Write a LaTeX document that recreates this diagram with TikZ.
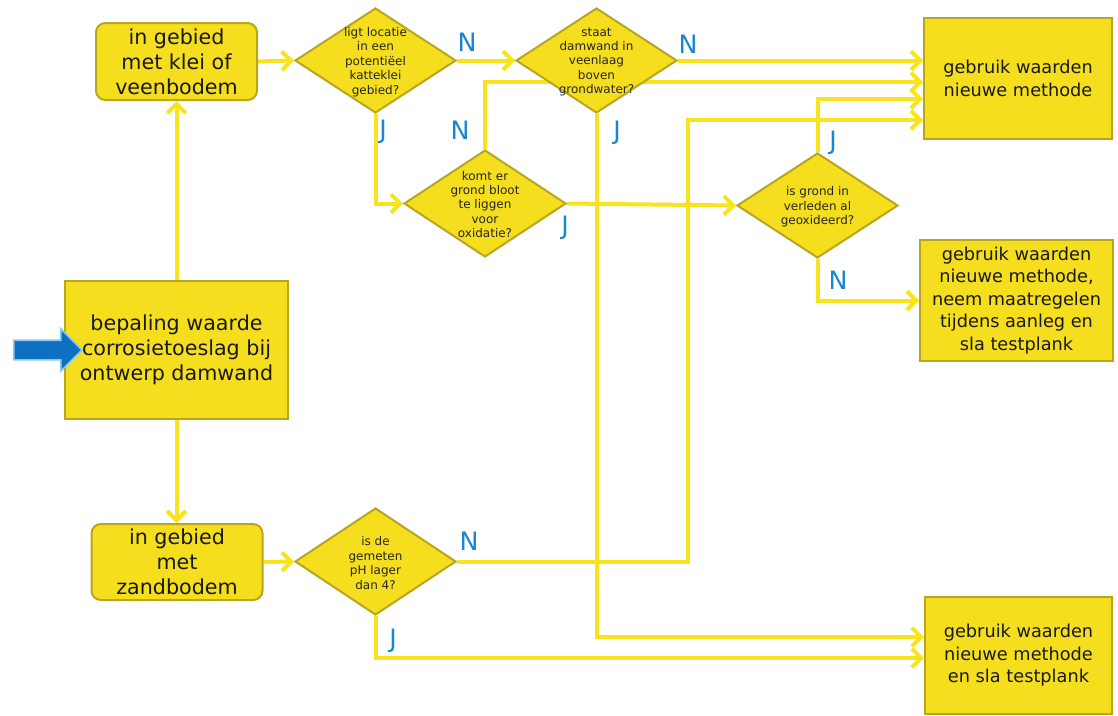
\documentclass[tikz,border=0pt]{standalone}
\usepackage{fontspec}
\setmainfont{DejaVu Sans}
\usetikzlibrary{shapes.geometric,shapes.arrows,arrows.meta,backgrounds}
\definecolor{boxfill}{RGB}{245,222,30}
\definecolor{boxline}{RGB}{185,165,30}
\definecolor{wire}{RGB}{248,228,28}
\definecolor{lblue}{RGB}{26,134,208}
\definecolor{darrow}{RGB}{14,112,192}
\definecolor{darrowedge}{RGB}{140,200,240}
\begin{document}
\begin{tikzpicture}[x=0.75pt,y=-0.75pt,
  box/.style={draw=boxline, fill=boxfill, line width=1.5pt, align=center, text=black!90, inner sep=0pt},
  rbox/.style={box, rounded corners=7pt},
  diam/.style={diamond, draw=boxline, fill=boxfill, line width=1.5pt, inner sep=0pt, minimum width=120.75pt, minimum height=78.75pt},
  dtext/.style={align=center, font=\fontsize{9}{10.8}\selectfont, text=black!85, inner sep=0pt},
  big/.style={font=\fontsize{15.5}{18.75}\selectfont},
  mid/.style={font=\fontsize{13.3}{16.9}\selectfont},
  arr/.style={draw=wire, line width=3pt, -{Straight Barb[length=7pt,width=14pt]}},
  lbl/.style={text=lblue, font=\fontsize{19}{20}\selectfont, inner sep=0pt}]
\useasboundingbox (0,0) rectangle (1118,715);

% boxes
\node[rbox, big, minimum width=120.75pt, minimum height=57.75pt] (klei) at (176.5,61.5) {in gebied\\met klei of\\veenbodem};
\node[rbox, big, minimum width=128.25pt, minimum height=57pt] (zand) at (177,562) {in gebied\\met\\zandbodem};
\node[box, big, minimum width=167.25pt, minimum height=103.5pt] (main) at (176.5,350) {bepaling waarde\\corrosietoeslag bij\\ontwerp damwand};
\node[box, mid, minimum width=141pt, minimum height=90.75pt] (b1) at (1018,78.5) {gebruik waarden\\nieuwe methode};
\node[box, mid, minimum width=144.75pt, minimum height=90.75pt] (b2) at (1016.5,300.5) {gebruik waarden\\nieuwe methode,\\neem maatregelen\\tijdens aanleg en\\sla testplank};
\node[box, mid, minimum width=140.25pt, minimum height=87.75pt] (b3) at (1018.5,655.5) {gebruik waarden\\nieuwe methode\\en sla testplank};

% start arrow
\node[single arrow, fill=darrow, draw=darrowedge, line width=1.2pt, inner sep=6.75pt, minimum height=51pt, single arrow head extend=8.5pt] (start) at (43,350) {};

% diamonds
\node[diam] (d1) at (375.5,60.5) {};
\node[dtext] (t1) at (375.5,62) {ligt locatie\\in een\\potentiëel\\katteklei\\gebied?};
\node[diam] (d2) at (596.5,60.5) {};
\node[dtext] (t2) at (596.5,62) {staat\\damwand in\\veenlaag\\boven\\grondwater?};
\node[diam, minimum width=121.5pt, minimum height=80.25pt] (d3) at (485,203.5) {};
\node[dtext] (t3) at (485,204.5) {komt er\\grond bloot\\te liggen\\voor\\oxidatie?};
\node[diam] (d4) at (817.5,205.5) {};
\node[dtext] (t4) at (817.5,207) {is grond in\\verleden al\\geoxideerd?};
\node[diam, minimum height=80.25pt] (d5) at (375.5,561.5) {};
\node[dtext] (t5) at (375.5,563) {is de\\gemeten\\pH lager\\dan 4?};

% labels
\node[lbl] (n1) at (467,42) {N};
\node[lbl] (j1) at (383,132) {J};
\node[lbl] (n2) at (460,130) {N};
\node[lbl] (j2) at (617,133) {J};
\node[lbl] (j3) at (565,228) {J};
\node[lbl] (n3) at (688,44) {N};
\node[lbl] (j4) at (833,143) {J};
\node[lbl] (n4) at (838,280) {N};
\node[lbl] (n5) at (469,541) {N};
\node[lbl] (j5) at (393,641) {J};

\coordinate (c5) at (688,120);

\begin{scope}[on background layer]
\draw[arr] (main.north) -- (klei.south);
\draw[arr] (main.south) -- (main.south |- zand.north);
\draw[arr] (klei.east) -- (d1.west);
\draw[arr] (zand.east) -- (d5.west);
\draw[arr] (d1.east) -- (d2.west);
\draw[arr] (d1.south) |- (d3.west);
\draw[arr] (d2.east) -- (b1.west |- d2.east);
\draw[arr] (d3.north) |- (b1.west |- 0,82);
\draw[arr] (d4.north) |- (b1.west |- 0,99);
\draw[arr] (d5.east) -| (c5) -- (b1.west |- c5);
\draw[arr] (d3.east) -- (d4.west);
\draw[arr] (d4.south) |- (b2.west);
\draw[arr] (d2.south) |- (b3.west |- 0,637);
\draw[arr] (d5.south) |- (b3.west |- 0,658);
\end{scope}
\end{tikzpicture}
\end{document}
